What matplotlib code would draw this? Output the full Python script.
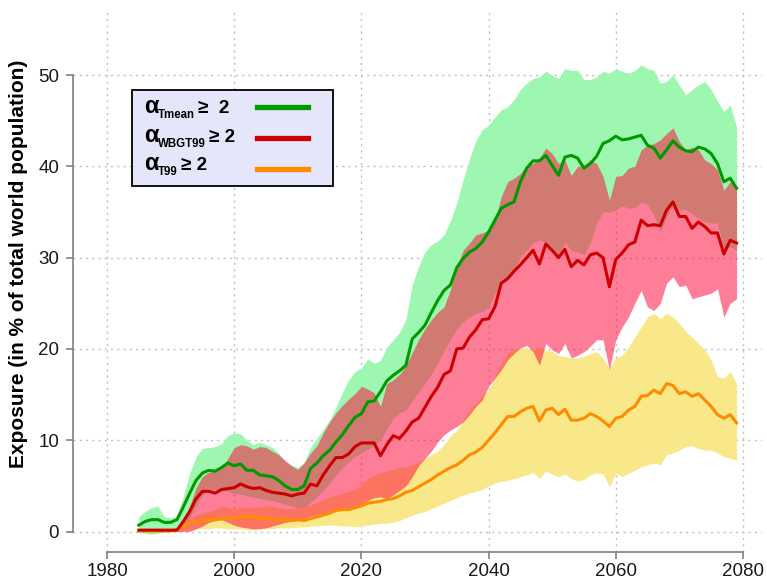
import matplotlib
matplotlib.use("Agg")
import matplotlib.pyplot as plt
import numpy as np
from matplotlib.patches import Rectangle

years = list(range(1985, 2080))

tmean_mean = [0.7, 1.1, 1.3, 1.3, 1.0, 1.0, 1.3, 2.7, 4.2, 5.6, 6.4, 6.7, 6.6, 7.0, 7.5, 7.2, 7.4, 6.7, 6.7, 6.2,
              6.1, 6.0, 5.6, 5.0, 4.6, 4.6, 5.0, 6.9, 7.5, 8.3, 8.9, 9.8, 10.6, 11.6, 12.5, 12.9, 14.2, 14.3, 15.3, 16.5,
              17.1, 17.6, 18.2, 21.1, 21.8, 22.6, 24.0, 25.3, 26.4, 27.0, 28.9, 29.9, 30.6, 31.0, 31.7, 32.8, 34.1, 35.4, 35.8, 36.1,
              38.3, 39.8, 40.6, 40.6, 41.2, 40.1, 39.0, 41.0, 41.2, 40.9, 39.8, 40.3, 41.1, 42.5, 42.8, 43.3, 42.9, 43.0, 43.2, 43.4,
              42.3, 42.0, 40.9, 41.8, 42.8, 42.1, 41.7, 41.6, 42.1, 41.9, 41.4, 40.3, 38.3, 38.7, 37.6]
tmean_low = [0.0, -0.2, -0.3, -0.2, 0.0, 0.0, 0.1, 0.6, 1.6, 2.8, 4.0, 4.5, 4.6, 4.5, 4.4, 4.2, 4.1, 3.9, 3.8, 3.6,
             3.5, 3.4, 3.2, 3.0, 2.8, 2.6, 2.6, 3.2, 3.8, 4.5, 5.3, 6.2, 7.0, 7.6, 8.2, 8.6, 9.0, 9.4, 10.0, 11.2,
             12.4, 13.0, 13.3, 14.3, 15.3, 16.2, 17.2, 18.5, 19.8, 21.0, 22.2, 23.0, 23.5, 23.9, 24.1, 24.6, 26.1, 27.2, 27.5, 28.5,
             30.1, 30.8, 31.6, 31.9, 31.7, 31.2, 29.9, 31.7, 30.8, 30.6, 30.3, 31.6, 33.8, 35.0, 35.0, 35.2, 35.7, 35.4, 35.5, 36.1,
             35.8, 34.7, 32.8, 34.5, 35.6, 35.2, 35.3, 34.8, 34.3, 33.9, 33.8, 33.8, 30.9, 31.2, 30.8]
tmean_high = [1.6, 2.2, 2.6, 2.8, 1.6, 1.5, 1.7, 3.8, 6.4, 8.2, 9.1, 9.2, 9.3, 9.6, 10.5, 10.8, 10.7, 10.0, 9.5, 9.8,
              9.5, 9.2, 8.6, 7.6, 7.3, 7.0, 7.6, 9.2, 10.2, 11.2, 12.2, 13.6, 15.2, 16.6, 17.5, 17.9, 18.9, 18.4, 18.7, 20.2,
              21.0, 21.8, 23.2, 27.0, 29.0, 30.6, 31.4, 31.8, 32.5, 34.0, 36.0, 38.5, 40.8, 42.8, 44.0, 44.5, 45.4, 46.2, 46.5, 47.3,
              48.4, 49.1, 49.6, 49.8, 50.4, 50.0, 49.6, 50.7, 50.5, 50.5, 49.5, 49.5, 49.8, 50.4, 50.2, 50.7, 50.4, 50.2, 50.5, 51.1,
              50.7, 50.5, 49.1, 49.3, 50.0, 48.9, 47.8, 48.4, 48.9, 49.3, 48.4, 47.1, 46.0, 46.7, 44.3]

wbgt_mean = [0.15, 0.15, 0.15, 0.15, 0.15, 0.15, 0.15, 1.1, 2.2, 3.6, 4.4, 4.4, 4.2, 4.6, 4.7, 4.8, 5.2, 4.9, 4.7, 4.8,
             4.5, 4.3, 4.2, 4.1, 3.9, 4.1, 4.2, 5.2, 5.0, 6.2, 7.2, 8.1, 8.1, 8.5, 9.3, 9.7, 9.7, 9.7, 8.3, 9.5,
             10.5, 10.2, 11.0, 12.0, 12.4, 13.6, 14.8, 15.8, 17.2, 17.6, 20.0, 20.1, 21.3, 22.1, 23.2, 23.3, 24.6, 27.2, 27.7, 28.5,
             29.2, 30.0, 30.8, 29.3, 31.5, 30.8, 30.0, 30.9, 29.0, 29.7, 29.2, 30.3, 30.5, 30.0, 26.8, 29.8, 30.5, 31.4, 31.7, 34.1,
             33.5, 33.6, 33.5, 35.2, 36.1, 34.5, 34.5, 33.2, 33.9, 33.4, 32.7, 32.7, 30.4, 31.9, 31.6]
wbgt_low = [0.0, 0.0, 0.0, 0.0, 0.0, 0.0, 0.0, 0.0, 0.0, 0.3, 0.6, 1.0, 1.2, 1.3, 1.0, 0.7, 0.5, 0.4, 0.3, 0.3,
            0.4, 0.6, 0.8, 1.0, 1.1, 1.2, 1.4, 1.7, 1.8, 2.0, 2.2, 2.4, 2.6, 2.6, 2.8, 3.0, 3.4, 3.7, 3.8, 3.6,
            4.0, 4.5, 5.0, 6.0, 7.2, 8.0, 8.8, 9.8, 10.6, 11.1, 11.5, 12.0, 12.8, 13.7, 14.4, 15.9, 16.8, 17.7, 18.8, 19.5,
            20.1, 20.4, 19.7, 18.2, 20.6, 19.9, 19.5, 20.6, 19.0, 19.3, 19.7, 20.3, 21.0, 21.0, 17.7, 21.0, 22.4, 23.5, 25.0, 26.4,
            24.6, 24.2, 25.0, 27.2, 27.9, 26.8, 27.0, 25.5, 25.7, 25.9, 26.1, 26.6, 23.5, 25.0, 25.5]
wbgt_high = [0.2, 0.2, 0.2, 0.2, 0.2, 0.2, 0.3, 1.2, 2.8, 4.8, 6.0, 6.5, 6.6, 6.9, 8.0, 9.2, 9.5, 9.4, 9.0, 9.3,
             9.2, 8.8, 8.4, 7.8, 7.2, 6.8, 7.5, 8.6, 9.4, 10.8, 12.0, 13.0, 13.8, 14.5, 15.1, 15.9, 15.6, 15.2, 13.7, 16.2,
             16.6, 17.2, 18.1, 19.6, 21.0, 22.2, 23.2, 24.0, 24.6, 26.5, 29.0, 30.8, 31.6, 32.5, 32.7, 33.0, 34.1, 36.7, 38.3, 38.7,
             39.2, 40.1, 40.3, 40.9, 42.0, 41.4, 40.3, 40.7, 39.0, 40.0, 40.1, 40.7, 40.3, 38.9, 36.3, 38.9, 39.0, 39.8, 40.0, 41.8,
             42.3, 42.5, 42.9, 43.6, 44.2, 42.7, 41.8, 42.1, 41.8, 40.7, 40.3, 39.6, 37.4, 38.3, 37.8]

t99_mean = [0.05, 0.05, 0.05, 0.05, 0.05, 0.05, 0.2, 0.5, 0.9, 1.1, 1.2, 1.3, 1.3, 1.4, 1.4, 1.5, 1.6, 1.6, 1.6, 1.5,
            1.4, 1.3, 1.3, 1.3, 1.2, 1.3, 1.2, 1.4, 1.6, 1.8, 2.0, 2.3, 2.4, 2.4, 2.6, 2.8, 3.1, 3.2, 3.3, 3.5,
            3.6, 3.9, 4.3, 4.5, 4.9, 5.3, 5.7, 6.2, 6.6, 7.0, 7.3, 7.8, 8.4, 8.7, 9.2, 10.0, 10.8, 11.7, 12.6, 12.6,
            13.1, 13.5, 13.7, 12.1, 13.3, 13.5, 12.8, 13.4, 12.2, 12.2, 12.4, 12.9, 12.6, 12.1, 11.5, 12.4, 12.6, 13.3, 13.7, 14.8,
            14.9, 15.5, 15.1, 16.2, 16.0, 15.1, 15.3, 14.8, 15.1, 14.4, 13.7, 12.8, 12.4, 12.8, 11.9]
t99_low = [0.0, 0.0, 0.0, 0.0, 0.0, 0.0, 0.05, 0.1, 0.2, 0.3, 0.3, 0.3, 0.4, 0.4, 0.3, 0.3, 0.3, 0.2, 0.2, 0.3,
           0.3, 0.3, 0.4, 0.4, 0.4, 0.5, 0.5, 0.6, 0.6, 0.7, 0.7, 0.7, 0.6, 0.6, 0.5, 0.6, 0.7, 0.8, 0.9, 0.9,
           1.0, 1.2, 1.5, 1.8, 2.0, 2.2, 2.5, 2.8, 3.1, 3.4, 3.7, 4.0, 4.2, 4.4, 4.6, 5.0, 5.3, 5.5, 5.6, 5.8,
           6.0, 6.2, 6.5, 5.8, 6.6, 6.3, 6.0, 6.3, 5.8, 5.5, 5.7, 6.2, 6.4, 6.3, 4.9, 6.4, 6.0, 6.4, 6.7, 7.1,
           7.3, 7.5, 7.3, 8.4, 8.6, 8.9, 9.3, 9.4, 9.1, 8.9, 8.9, 8.6, 8.2, 8.0, 7.8]
t99_high = [0.05, 0.05, 0.05, 0.05, 0.05, 0.05, 0.3, 0.9, 1.4, 1.8, 2.0, 2.2, 2.4, 2.8, 2.6, 2.4, 2.6, 2.7, 2.6, 2.7,
            2.8, 2.8, 2.6, 2.5, 2.5, 2.6, 2.7, 2.9, 3.2, 3.5, 3.8, 4.0, 4.2, 4.4, 4.6, 5.2, 5.8, 6.2, 6.4, 6.6,
            6.8, 7.0, 7.1, 7.3, 7.6, 8.0, 8.4, 8.8, 9.5, 10.5, 11.1, 12.2, 13.3, 14.0, 14.8, 15.5, 17.0, 18.4, 19.5, 19.9,
            20.1, 20.1, 19.9, 20.2, 19.9, 19.7, 19.3, 19.2, 19.0, 19.0, 19.2, 19.5, 19.7, 19.0, 17.9, 19.0, 19.3, 20.2, 21.3, 22.4,
            23.5, 23.9, 23.3, 23.9, 23.5, 22.8, 21.9, 21.3, 20.6, 19.9, 18.8, 17.0, 16.8, 17.5, 16.2]

x_ticks = [1980, 2000, 2020, 2040, 2060, 2080]
y_ticks = [0, 10, 20, 30, 40, 50]
y_label = "Exposure (in % of total world population)"
legend_subs = ["Tmean", "WBGT99", "T99"]
legend_rest = ["\u2265  2", "\u2265 2", "\u2265 2"]

W, H = 767, 579
FONT = "Liberation Sans"
fig = plt.figure(figsize=(W / 100, H / 100), dpi=100)
ax = fig.add_axes([73 / W, 1 - 552 / H, (762 - 73) / W, (552 - 10) / H])
ax.set_xlim(1974.65, 2083.0)
ax.set_ylim(-2.245, 57.12)

for xt in x_ticks:
    ax.axvline(xt, color="#c0c0c0", lw=1.0, ls=(0, (1.5, 3)), zorder=0)
for yt in y_ticks:
    ax.axhline(yt, color="#c0c0c0", lw=1.0, ls=(0, (1.5, 3)), zorder=0)

yr = np.array(years)
ax.fill_between(yr, t99_low, t99_high, color="#f9e88a", lw=0, zorder=1)
ax.fill_between(yr, tmean_low, tmean_high, color="#9df7b0", lw=0, zorder=2)
ax.fill_between(yr, wbgt_low, wbgt_high, color=(1.0, 0.03, 0.22), alpha=0.52, lw=0, zorder=3)

ax.plot(yr, t99_mean, color="#ff8c00", lw=2.2, zorder=4, solid_joinstyle="round")
ax.plot(yr, wbgt_mean, color="#cc0000", lw=2.2, zorder=5, solid_joinstyle="round")
ax.plot(yr, tmean_mean, color="#009a00", lw=2.2, zorder=6, solid_joinstyle="round")

for s in ["top", "right"]:
    ax.spines[s].set_visible(False)
ax.spines["left"].set_bounds(0, 50)
ax.spines["bottom"].set_bounds(1980, 2080)
for s in ["left", "bottom"]:
    ax.spines[s].set_color("#808080")
    ax.spines[s].set_linewidth(1.2)
ax.set_xticks(x_ticks)
ax.set_yticks(y_ticks)
ax.tick_params(axis="both", colors="#808080", length=5, width=1.2, labelcolor="#1a1a1a",
               labelsize=13.5)
for lab in ax.get_xticklabels() + ax.get_yticklabels():
    lab.set_family(FONT)
ax.tick_params(axis="x", pad=3)
ax.tick_params(axis="y", pad=5)

fig.text(19 / W, 1 - 264 / H, y_label, rotation=90, ha="center", va="center",
         fontsize=15, fontweight="bold", family=FONT)

# legend box
fig.patches.append(Rectangle((132 / W, 1 - 186 / H), (333 - 132) / W, (186 - 90) / H,
                             transform=fig.transFigure, facecolor="#e6e6fa",
                             edgecolor="black", lw=1.3, zorder=10))
leg_colors = ["#009a00", "#cc0000", "#ff8c00"]
leg_base = [113, 142, 170]
leg_line_y = [107, 138, 169]
renderer = fig.canvas.get_renderer()
for sub, rest, base, col, ly in zip(legend_subs, legend_rest, leg_base, leg_colors, leg_line_y):
    fig.text(144 / W, 1 - base / H, "\u03b1", fontsize=17, fontweight="bold",
             family=FONT, va="baseline", ha="left", zorder=11)
    t = fig.text(158 / W, 1 - (base + 5) / H, sub, fontsize=8.3, fontweight="bold",
                 family=FONT, va="baseline", ha="left", zorder=11)
    x_end = t.get_window_extent(renderer).x1
    fig.text((x_end + 3) / W, 1 - base / H, rest, fontsize=13.7, fontweight="bold",
             family=FONT, va="baseline", ha="left", zorder=11)
    fig.lines.append(plt.Line2D([257 / W, 308 / W], [1 - ly / H, 1 - ly / H],
                                transform=fig.transFigure, color=col, lw=3.8, zorder=11))

fig.savefig("out.png", dpi=100)
